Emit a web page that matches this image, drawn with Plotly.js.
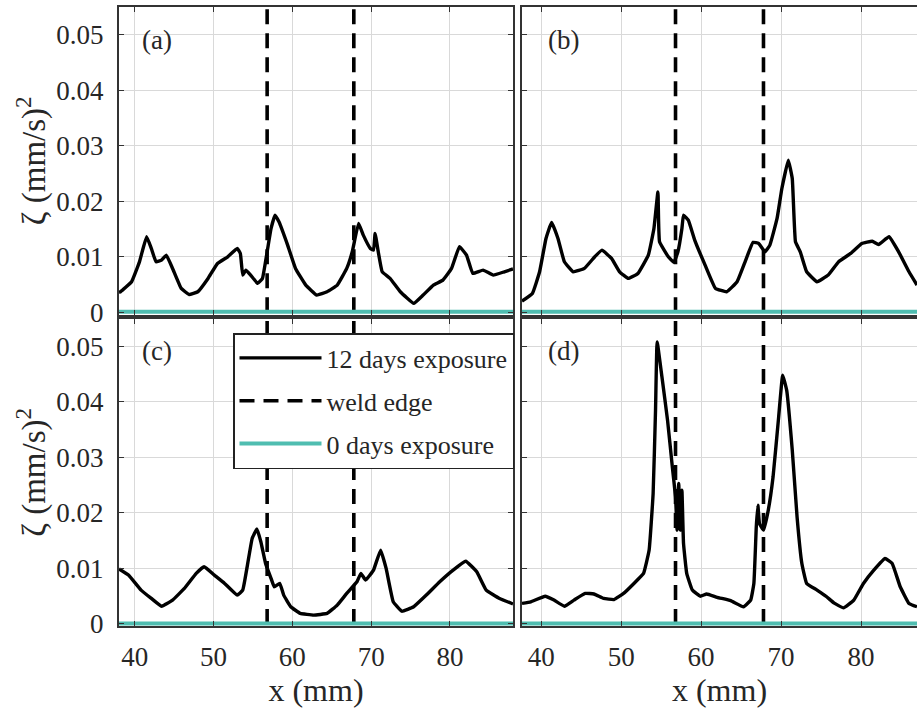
<!DOCTYPE html>
<html>
<head>
<meta charset="utf-8">
<script src="https://cdn.plot.ly/plotly-3.0.1.min.js"></script>
<style>html,body{margin:0;padding:0;background:#fff;overflow:hidden}</style>
</head>
<body>
<div id="chart" style="width:917px;height:709px"></div>
<script>
// ---- data ----
const weldEdges = [56.8, 67.8];

const a_x = [38.0, 38.2, 39.6, 40.6, 41.5, 42.1, 42.7, 43.4, 44.0, 44.8, 45.9, 46.9, 48.0, 49.3, 50.5, 51.8, 53.0, 53.4, 53.7, 54.1, 54.7, 55.6, 56.2, 56.8, 57.3, 57.8, 58.3, 59.4, 60.4, 61.7, 63.1, 64.4, 65.7, 66.9, 67.6, 68.4, 69.0, 69.9, 70.3, 70.5, 70.9, 71.4, 72.4, 73.7, 75.4, 76.6, 77.9, 79.1, 80.2, 81.2, 82.1, 82.9, 84.2, 85.5, 86.9, 88.0];
const a_y = [0.0036, 0.0037, 0.0055, 0.0091, 0.0136, 0.0115, 0.0091, 0.0094, 0.0103, 0.0079, 0.0043, 0.0032, 0.0037, 0.0061, 0.0088, 0.0100, 0.0115, 0.0106, 0.0067, 0.0076, 0.0067, 0.0052, 0.0061, 0.0109, 0.0151, 0.0175, 0.0163, 0.0121, 0.0079, 0.0049, 0.0031, 0.0037, 0.0049, 0.0079, 0.0109, 0.0160, 0.0139, 0.0115, 0.0112, 0.0142, 0.0109, 0.0073, 0.0061, 0.0037, 0.0016, 0.0031, 0.0049, 0.0058, 0.0079, 0.0118, 0.0103, 0.0070, 0.0076, 0.0067, 0.0073, 0.0078];

const b_x = [37.6, 38.9, 39.8, 40.6, 41.3, 42.1, 42.9, 44.0, 45.4, 46.7, 47.6, 48.8, 49.8, 50.9, 52.1, 53.4, 54.1, 54.6, 54.8, 55.9, 56.6, 57.1, 57.6, 57.8, 58.4, 59.2, 60.5, 61.8, 63.2, 64.5, 65.5, 66.5, 67.2, 68.0, 68.6, 69.5, 70.1, 70.9, 71.4, 71.8, 72.4, 73.2, 74.5, 75.9, 77.2, 78.7, 80.1, 81.4, 82.2, 83.5, 84.7, 86.0, 87.0];
const b_y = [0.0020, 0.0034, 0.0073, 0.0133, 0.0162, 0.0133, 0.0091, 0.0073, 0.0079, 0.0100, 0.0112, 0.0097, 0.0073, 0.0061, 0.0070, 0.0103, 0.0151, 0.0217, 0.0127, 0.0100, 0.0090, 0.0109, 0.0151, 0.0175, 0.0166, 0.0130, 0.0085, 0.0043, 0.0037, 0.0055, 0.0091, 0.0126, 0.0124, 0.0109, 0.0121, 0.0169, 0.0223, 0.0274, 0.0241, 0.0127, 0.0109, 0.0073, 0.0055, 0.0067, 0.0091, 0.0106, 0.0124, 0.0128, 0.0122, 0.0136, 0.0109, 0.0073, 0.0049];

const c_x = [38.0, 39.2, 40.8, 42.1, 43.4, 44.8, 46.3, 47.8, 48.8, 50.1, 51.4, 53.0, 53.7, 54.3, 54.9, 55.5, 56.0, 56.6, 57.3, 57.7, 58.4, 58.9, 59.8, 61.0, 62.7, 64.4, 65.7, 66.9, 68.2, 68.7, 69.3, 70.3, 71.2, 71.9, 72.8, 73.9, 75.4, 77.0, 78.7, 80.4, 82.0, 83.4, 84.6, 86.3, 88.0];
const c_y = [0.0099, 0.0088, 0.0061, 0.0046, 0.0032, 0.0043, 0.0064, 0.0091, 0.0103, 0.0088, 0.0073, 0.0052, 0.0061, 0.0106, 0.0154, 0.0171, 0.0148, 0.0109, 0.0082, 0.0067, 0.0073, 0.0052, 0.0031, 0.0019, 0.0016, 0.0019, 0.0034, 0.0055, 0.0076, 0.0091, 0.0079, 0.0097, 0.0133, 0.0100, 0.0040, 0.0023, 0.0031, 0.0052, 0.0076, 0.0097, 0.0113, 0.0094, 0.0061, 0.0046, 0.0036];

const d_x = [37.6, 38.7, 40.5, 41.6, 42.9, 44.1, 45.5, 46.6, 47.8, 49.1, 50.3, 51.6, 52.8, 53.5, 54.0, 54.3, 54.5, 55.1, 55.8, 56.4, 56.8, 57.0, 57.2, 57.4, 57.6, 57.8, 58.2, 58.9, 59.9, 60.7, 62.0, 63.7, 65.3, 66.2, 66.6, 66.9, 67.1, 67.3, 67.8, 68.4, 69.0, 69.7, 70.2, 70.7, 71.4, 72.0, 72.6, 73.2, 74.5, 75.7, 76.6, 77.8, 79.1, 80.3, 81.6, 83.0, 83.9, 84.9, 86.0, 87.0];
const d_y = [0.0037, 0.0040, 0.0050, 0.0043, 0.0032, 0.0043, 0.0055, 0.0054, 0.0046, 0.0044, 0.0055, 0.0073, 0.0091, 0.0133, 0.0235, 0.0385, 0.0508, 0.0445, 0.0367, 0.0283, 0.0229, 0.0169, 0.0253, 0.0169, 0.0241, 0.0145, 0.0091, 0.0061, 0.0050, 0.0054, 0.0048, 0.0042, 0.0031, 0.0043, 0.0073, 0.0175, 0.0214, 0.0181, 0.0169, 0.0205, 0.0265, 0.0373, 0.0448, 0.0421, 0.0313, 0.0193, 0.0109, 0.0073, 0.0061, 0.0049, 0.0038, 0.0029, 0.0043, 0.0073, 0.0097, 0.0118, 0.0109, 0.0067, 0.0037, 0.0031];

const zero_x = [37, 50, 60, 70, 89];
const zero_y = [0.0001, 0.0001, 0.0001, 0.0001, 0.0001];

const xTicks = [40, 50, 60, 70, 80];
const xTickText = ['40', '50', '60', '70', '80'];
const yTicks = [0, 0.01, 0.02, 0.03, 0.04, 0.05];
const yTickText = ['0', '0.01', '0.02', '0.03', '0.04', '0.05'];
const panelLabels = ['(a)', '(b)', '(c)', '(d)'];
const seriesNames = ['12 days exposure', 'weld edge', '0 days exposure'];
const yMax = 0.055;

// ---- styling ----
const FONT = '"Liberation Serif", "Times New Roman", serif';
const TXT = '#262626';
const TEAL = '#4fbdb0';
const W = 917, H = 709;
const px = v => v / W;
const py = v => 1 - v / H;

const curves = [[a_x, a_y], [b_x, b_y], [c_x, c_y], [d_x, d_y]];
const axes = [['x', 'y'], ['x2', 'y2'], ['x3', 'y3'], ['x4', 'y4']];

const traces = [];
curves.forEach((c, i) => {
  const [xa, ya] = axes[i];
  traces.push({x: c[0], y: c[1], xaxis: xa, yaxis: ya, type: 'scatter', mode: 'lines',
    line: {color: '#000', width: 3.4, shape: 'spline', smoothing: 0.3}, name: seriesNames[0],
    legendgroup: 'g1', showlegend: i === 0});
});
curves.forEach((c, i) => {
  const [xa, ya] = axes[i];
  weldEdges.forEach((e, j) => {
    traces.push({x: [e, e], y: [0, yMax], xaxis: xa, yaxis: ya, type: 'scatter', mode: 'lines',
      line: {color: '#000', width: 3.6, dash: '15px,9px'}, name: seriesNames[1], legendgroup: 'g2',
      showlegend: i === 0 && j === 0});
  });
});
curves.forEach((c, i) => {
  const [xa, ya] = axes[i];
  traces.push({x: zero_x, y: zero_y, xaxis: xa, yaxis: ya, type: 'scatter', mode: 'lines',
    line: {color: TEAL, width: 4}, name: seriesNames[2], legendgroup: 'g3', showlegend: i === 0});
});

function xAxis(dom, rng, anchor, labels) {
  return {domain: dom, range: rng, anchor: anchor, tickvals: xTicks, ticktext: xTickText,
    showticklabels: labels, ticks: 'inside', ticklen: 5, tickcolor: '#333', tickwidth: 1,
    showline: true, linecolor: '#333', linewidth: 2, mirror: 'ticks',
    showgrid: true, gridcolor: '#d9d9d9', gridwidth: 1, zeroline: false,
    ticklabelstandoff: 5,
    tickfont: {family: FONT, size: 27, color: TXT}};
}
function yAxis(dom, anchor, labels, mirror) {
  return {domain: dom, range: [-0.0004, yMax], anchor: anchor, tickvals: yTicks, ticktext: yTickText,
    showticklabels: labels, ticks: 'inside', ticklen: 5, tickcolor: '#333', tickwidth: 1,
    showline: true, linecolor: '#333', linewidth: 2, mirror: mirror,
    showgrid: true, gridcolor: '#d9d9d9', gridwidth: 1, zeroline: false,
    ticklabelstandoff: 8,
    tickfont: {family: FONT, size: 27, color: TXT}};
}

const xL = [px(119), px(513)], xR = [px(522), 1];
const yT = [py(314.5), py(7)], yB = [py(626.2), py(318.5)];
const rL = [38, 88], rR = [37.6, 87.0];

const yTitle = {text: 'ζ (mm/s)<sup>2</sup>', font: {family: FONT, size: 33, color: TXT}, standoff: 1};
const xTitle = {text: 'x (mm)', font: {family: FONT, size: 32, color: TXT}, standoff: 3};

const layout = {
  width: W, height: H, margin: {l: 0, r: 0, t: 0, b: 0},
  paper_bgcolor: '#fff', plot_bgcolor: '#fff',
  xaxis: xAxis(xL, rL, 'y', false),
  yaxis: Object.assign(yAxis(yT, 'x', true, 'ticks'), {title: yTitle}),
  xaxis2: xAxis(xR, rR, 'y2', false),
  yaxis2: yAxis(yT, 'x2', false, false),
  xaxis3: Object.assign(xAxis(xL, rL, 'y3', true), {title: xTitle}),
  yaxis3: Object.assign(yAxis(yB, 'x3', true, 'ticks'), {title: yTitle}),
  xaxis4: Object.assign(xAxis(xR, rR, 'y4', true), {title: xTitle}),
  yaxis4: yAxis(yB, 'x4', false, false),
  showlegend: true,
  legend: {x: px(233), y: py(333), xanchor: 'left', yanchor: 'top', bgcolor: '#fff',
    bordercolor: '#222', borderwidth: 1.5, font: {family: FONT, size: 26, color: TXT},
    itemwidth: 82, tracegroupgap: 6, traceorder: 'grouped'},
  annotations: panelLabels.map((t, i) => ({
    text: t, xref: axes[i][0] + ' domain', yref: axes[i][1] + ' domain',
    x: i % 2 === 0 ? 0.096 : 0.104, y: 0.893, xanchor: 'center', yanchor: 'middle',
    showarrow: false, font: {family: FONT, size: 27, color: TXT}}))
};

Plotly.newPlot('chart', traces, layout, {displayModeBar: false, staticPlot: true});
</script>
</body>
</html>
